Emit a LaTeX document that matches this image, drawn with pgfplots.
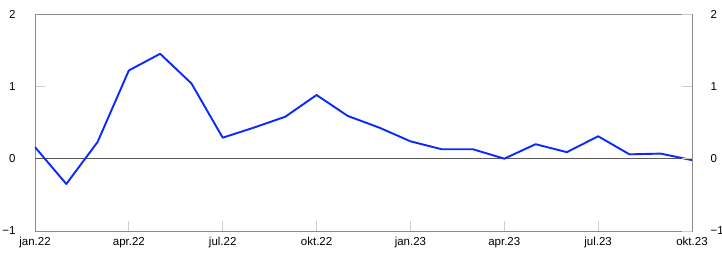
\documentclass[border=0pt]{standalone}
\usepackage{pgfplots}
\pgfplotsset{compat=1.18}
\usepackage{fontspec}
\setmainfont{Liberation Sans}
\definecolor{lineblue}{RGB}{10,40,255}
\definecolor{framegray}{RGB}{140,140,140}
\definecolor{tickgray}{RGB}{205,205,205}
\pgfplotstableread{
m v
0 0.16
1 -0.35
2 0.23
3 1.22
4 1.45
5 1.04
6 0.29
7 0.43
8 0.58
9 0.88
10 0.59
11 0.43
12 0.24
13 0.13
14 0.13
15 0.00
16 0.20
17 0.09
18 0.31
19 0.06
20 0.07
21 -0.02
}\datatable
\begin{document}
\begin{tikzpicture}
\pgfplotsset{
  common/.style={
    scale only axis, width=657pt, height=217pt,
    xmin=0, xmax=21, ymin=-1, ymax=2,
    ytick={-1,0,1,2}, yticklabels={−1,0,1,2},
    tick align=inside, major tick length=10pt,
    tick style={tickgray, line width=0.8pt},
    axis line style={framegray, line width=0.6pt},
    tick label style={font=\fontsize{11.5}{13}\selectfont},
  }
}
\begin{axis}[common,
  axis lines*=box,
  xtick={0,3,...,21},
  xticklabels={jan.22,apr.22,jul.22,okt.22,jan.23,apr.23,jul.23,okt.23},
  xtick pos=bottom, ytick pos=left,
  xticklabel style={yshift=-3pt},
  yticklabel style={anchor=east, xshift=-16pt},
]
\draw[black!65, line width=0.6pt] (axis cs:0,0) -- (axis cs:21,0);
\addplot[lineblue, line width=1.9pt, line join=round] table[x=m,y=v]{\datatable};
\end{axis}
\begin{axis}[common,
  axis x line=none,
  axis y line*=right,
  ytick pos=right,
  yticklabel style={anchor=west, xshift=15pt},
]
\end{axis}
\pgfresetboundingbox
\path ([shift={(-35pt,-29pt)}]current axis.south west) rectangle ([shift={(30pt,14pt)}]current axis.north east);
\end{tikzpicture}
\end{document}
